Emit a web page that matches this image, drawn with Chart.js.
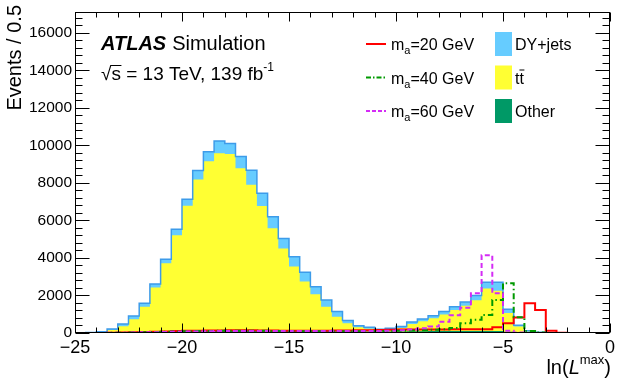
<!DOCTYPE html>
<html>
<head>
<meta charset="utf-8">
<script src="https://cdn.jsdelivr.net/npm/chart.js@4.4.0/dist/chart.umd.min.js"></script>
<style>
  html, body { margin: 0; padding: 0; background: #fff; }
</style>
</head>
<body>
<canvas id="c" width="619" height="379"></canvas>
<script>
// 50 bins of 0.5 between -25 and 0
const xMin = -25;
const binWidth = 0.5;

// backgrounds (stacked: other, ttbar, DY+jets)
const dyJets = [5,10,20,50,120,170,180,180,210,320,340,480,515,660,550,620,780,675,620,530,
  530,500,410,355,270,140,90,70,50,60,80,100,120,140,160,180,200,250,330,450,
  200,60,40,20,5,0,0,0,0,0];
const ttbar = [2,5,40,145,335,695,1350,2365,3640,5115,6680,8060,9025,9445,9410,8650,7765,6645,5455,4390,
  3425,2630,1955,1305,775,430,215,150,70,110,185,390,535,680,890,1115,1340,1640,2260,2150,
  990,320,70,15,5,0,0,0,0,0];
const other = [3,5,10,15,25,35,50,65,80,95,110,120,130,135,140,140,135,130,125,120,
  115,110,105,100,95,90,85,80,80,80,85,90,95,100,100,105,110,110,110,100,
  70,30,10,5,0,0,0,0,0,0];

// signal hypotheses (not stacked)
const sigM20 = [0,0,5,10,20,35,50,70,85,100,115,125,130,135,140,140,140,135,130,125,
  120,120,120,125,130,135,140,150,160,170,180,190,190,190,190,195,200,205,200,300,
  520,820,1580,1230,120,10,0,0,0,0];
const sigM40 = [0,0,5,10,15,25,35,50,60,75,90,100,110,115,120,120,120,115,110,105,
  100,95,90,90,90,90,95,100,105,110,120,130,150,170,200,260,515,700,960,1760,
  2650,840,100,20,0,0,0,0,0,0];
const sigM60 = [0,0,5,10,15,25,35,45,55,65,75,85,95,100,105,110,110,110,105,100,
  100,100,100,100,100,100,100,105,110,120,150,180,250,350,600,950,1350,2120,4150,2120,
  120,30,5,0,0,0,0,0,0,0];

const xTickValues = [-25, -20, -15, -10, -5, 0];
const yTickValues = [0, 2000, 4000, 6000, 8000, 10000, 12000, 14000, 16000];

const FONT = '"Liberation Sans", Arial, Helvetica, sans-serif';
const C_DY = '#66ccff', C_DY_LINE = '#3d9be9', C_TT = '#ffff33', C_OTHER = '#009966';
const C_M20 = '#ff0000', C_M40 = '#009900', C_M60 = '#d42cf5';

// turn bin contents into a step outline: two points per bin
function stepPoints(values) {
  const pts = [];
  values.forEach((v, i) => {
    const lo = xMin + i * binWidth;
    pts.push({ x: lo, y: v }, { x: lo + binWidth, y: v });
  });
  return pts;
}

const stackOther = other.slice();
const stackTT = other.map((v, i) => v + ttbar[i]);
const stackAll = stackTT.map((v, i) => v + dyJets[i]);

function sigLine(values, color, dash) {
  return { data: stepPoints(values), borderColor: color, borderWidth: 2, borderDash: dash, fill: false };
}

const datasets = [
  sigLine(sigM60, C_M60, [5, 3]),
  sigLine(sigM40, C_M40, [6, 3, 1.5, 3]),
  sigLine(sigM20, C_M20, []),
  { data: stepPoints(stackAll), borderColor: C_DY_LINE, borderWidth: 1.5, fill: false },
  { data: stepPoints(stackOther), borderWidth: 0, borderColor: C_OTHER, backgroundColor: C_OTHER, fill: 'origin' },
  { data: stepPoints(stackTT), borderWidth: 0, borderColor: C_TT, backgroundColor: C_TT, fill: 'origin' },
  { data: stepPoints(stackAll), borderWidth: 0, borderColor: C_DY, backgroundColor: C_DY, fill: 'origin' }
];

// draw a run of text pieces (font changes, sub/superscripts)
function drawRich(ctx, x, y, parts) {
  let cx = x;
  parts.forEach(p => {
    ctx.font = p.font;
    ctx.fillText(p.t, cx, y + (p.dy || 0));
    cx += ctx.measureText(p.t).width;
  });
  return cx;
}
function richWidth(ctx, parts) {
  let w = 0;
  parts.forEach(p => { ctx.font = p.font; w += ctx.measureText(p.t).width; });
  return w;
}

const framePlugin = {
  id: 'frame',
  afterDraw(chart) {
    const { ctx, chartArea: a, scales: { x, y } } = chart;
    ctx.save();
    ctx.strokeStyle = '#000';
    ctx.lineWidth = 1;
    const L = Math.round(a.left) + 0.5, R = Math.round(a.right) - 0.5;
    const T = Math.round(a.top) + 0.5, B = Math.round(a.bottom) - 0.5;
    ctx.strokeRect(L, T, R - L, B - T);

    // inward ticks on all four sides
    ctx.beginPath();
    for (let v = -25; v <= 0; v += 1) {
      const px = Math.round(x.getPixelForValue(v)) + 0.5;
      const len = v % 5 === 0 ? 9 : 5;
      ctx.moveTo(px, B); ctx.lineTo(px, B - len);
      ctx.moveTo(px, T); ctx.lineTo(px, T + len);
    }
    for (let v = 0; v <= y.max; v += 400) {
      const py = Math.round(y.getPixelForValue(v)) + 0.5;
      const len = v % 2000 === 0 ? 14 : 7;
      ctx.moveTo(L, py); ctx.lineTo(L + len, py);
      ctx.moveTo(R, py); ctx.lineTo(R - len, py);
    }
    ctx.stroke();

    ctx.fillStyle = '#000';
    ctx.textBaseline = 'alphabetic';

    // axis titles
    ctx.save();
    ctx.translate(21, 5);
    ctx.rotate(-Math.PI / 2);
    ctx.textAlign = 'right';
    ctx.font = '20px ' + FONT;
    ctx.fillText('Events / 0.5', 0, 0);
    ctx.restore();

    ctx.textAlign = 'left';
    const xt = [
      { t: 'ln(', font: '20px ' + FONT },
      { t: 'L', font: 'italic 20px ' + FONT },
      { t: 'max', font: '13px ' + FONT, dy: -10 },
      { t: ')', font: '20px ' + FONT }
    ];
    drawRich(ctx, 611 - richWidth(ctx, xt), 374, xt);

    // experiment label
    let cx = drawRich(ctx, 101, 50, [{ t: 'ATLAS', font: 'bold italic 20px ' + FONT }]);
    drawRich(ctx, cx + 6, 50, [{ t: 'Simulation', font: '20px ' + FONT }]);
    ctx.font = '19px ' + FONT;
    const rx = 101 + ctx.measureText('\u221A').width;
    drawRich(ctx, 101, 80, [
      { t: '\u221As = 13 TeV, 139 fb', font: '19px ' + FONT },
      { t: '-1', font: '12px ' + FONT, dy: -9 }
    ]);
    ctx.beginPath();
    ctx.moveTo(rx - 1, 65.5); ctx.lineTo(rx + 10, 65.5);
    ctx.lineWidth = 1; ctx.stroke();

    // legend: signals
    const rows = [44, 77.5, 111];
    const sigs = [[C_M20, [], '20'], [C_M40, [5, 2, 1.5, 2], '40'], [C_M60, [4, 2], '60']];
    sigs.forEach((s, i) => {
      ctx.beginPath();
      ctx.strokeStyle = s[0];
      ctx.lineWidth = 2;
      ctx.setLineDash(s[1]);
      ctx.moveTo(366, rows[i]); ctx.lineTo(386, rows[i]);
      ctx.stroke();
      ctx.setLineDash([]);
      drawRich(ctx, 391, rows[i] + 6, [
        { t: 'm', font: '16px ' + FONT },
        { t: 'a', font: '11px ' + FONT, dy: 4 },
        { t: '=' + s[2] + ' GeV', font: '16px ' + FONT }
      ]);
    });

    // legend: backgrounds
    const bkgs = [[C_DY, 'DY+jets'], [C_TT, 'tt'], [C_OTHER, 'Other']];
    bkgs.forEach((b, i) => {
      ctx.fillStyle = b[0];
      ctx.fillRect(495, rows[i] - 12, 17, 24);
      ctx.fillStyle = '#000';
      ctx.font = '16px ' + FONT;
      ctx.fillText(b[1], 515, rows[i] + 6);
    });
    // bar over the second t of tt
    ctx.font = '16px ' + FONT;
    const tw = ctx.measureText('t').width;
    ctx.beginPath();
    ctx.strokeStyle = '#000';
    ctx.lineWidth = 1;
    ctx.moveTo(515 + tw, rows[1] - 7.5); ctx.lineTo(515 + 2 * tw + 0.5, rows[1] - 7.5);
    ctx.stroke();

    ctx.restore();
  }
};

new Chart(document.getElementById('c'), {
  type: 'line',
  data: { datasets },
  options: {
    responsive: false,
    animation: false,
    layout: { padding: { top: 12, right: 6, left: 0, bottom: 0 } },
    plugins: { legend: { display: false }, tooltip: { enabled: false } },
    elements: { point: { radius: 0 }, line: { tension: 0 } },
    scales: {
      x: {
        type: 'linear', min: -25, max: 0,
        grid: { display: false, drawTicks: false },
        border: { display: false },
        afterFit(s) { s.height = 46; },
        afterBuildTicks(s) { s.ticks = xTickValues.map(v => ({ value: v })); },
        ticks: {
          font: { family: FONT, size: 18 }, color: '#000', padding: 4, maxRotation: 0, autoSkip: false,
          callback: v => String(v).replace('-', '\u2212')
        }
      },
      y: {
        type: 'linear', min: 0, max: 17100,
        grid: { display: false, drawTicks: false },
        border: { display: false },
        afterFit(s) { s.width = 75; },
        afterBuildTicks(s) { s.ticks = yTickValues.map(v => ({ value: v })); },
        ticks: { font: { family: FONT, size: 15.5 }, color: '#000', padding: 3, autoSkip: false, callback: v => String(v) }
      }
    }
  },
  plugins: [framePlugin]
});
</script>
</body>
</html>
